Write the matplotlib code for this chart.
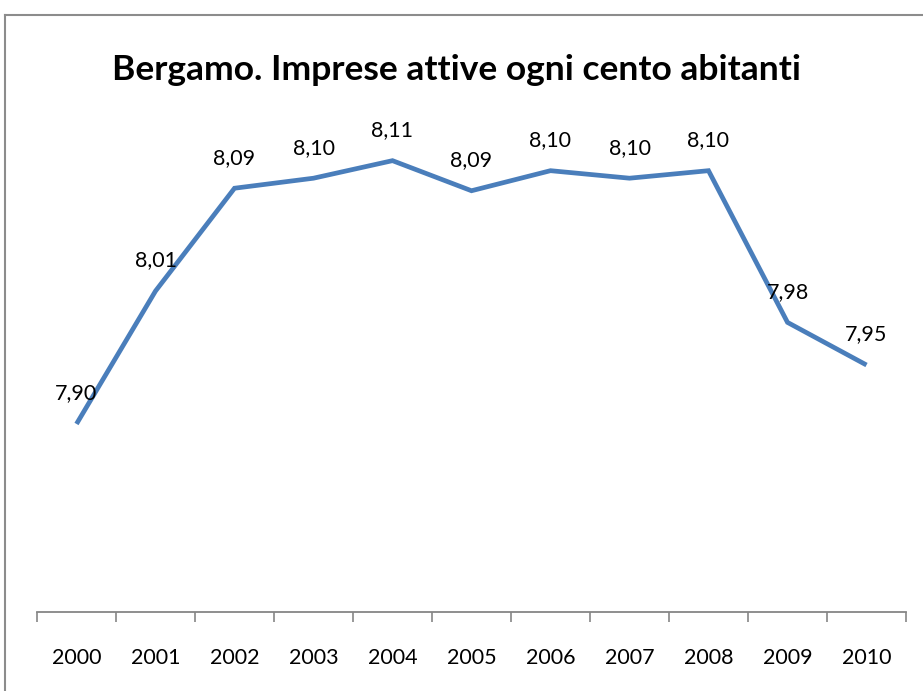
import matplotlib
matplotlib.use("Agg")
import matplotlib.pyplot as plt
from matplotlib.lines import Line2D

years = ["2000", "2001", "2002", "2003", "2004", "2005", "2006", "2007", "2008", "2009", "2010"]
values = [7.900, 8.006, 8.088, 8.096, 8.110, 8.086, 8.102, 8.096, 8.102, 7.981, 7.947]
title = "Bergamo. Imprese attive ogni cento abitanti"

plt.rcParams['font.family'] = ['Lato', 'DejaVu Sans']

W, H = 923, 691
fig = plt.figure(figsize=(W / 100, H / 100), dpi=100)
fig.patch.set_facecolor("white")

ax = fig.add_axes([37 / W, 1 - 612 / H, (906 - 37) / W, (612 - 110.5) / H])
x = list(range(len(years)))
ax.plot(x, values, color="#4A7EBB", lw=3.4, solid_joinstyle="miter", solid_capstyle="butt")

for xi, v in zip(x, values):
    ax.annotate(f"{v:.2f}".replace(".", ","), (xi, v), xytext=(0, 22),
                textcoords="offset points", ha="center", va="center",
                fontsize=15.5, color="black")

ax.set_xlim(-0.5, len(years) - 0.5)
ax.set_ylim(7.75, 8.15)
ax.set_yticks([])
for s in ["left", "right", "top"]:
    ax.spines[s].set_visible(False)
ax.spines["bottom"].set_color("#868686")
ax.spines["bottom"].set_linewidth(1.3)

ax.set_xticks([i - 0.5 for i in range(len(years) + 1)])
ax.set_xticklabels([])
ax.tick_params(axis="x", which="major", direction="out", length=7, width=1.2, color="#868686")
ax.set_xticks(x, minor=True)
ax.set_xticklabels(years, minor=True, fontsize=15.5)
ax.tick_params(axis="x", which="minor", length=0, pad=26)

fig.text(457 / W, 1 - 70 / H, title, ha="center", va="center",
         fontsize=25.5, fontweight="bold", color="black")

# chart border (top and left visible)
fig.add_artist(Line2D([5 / W, 1], [1 - 15 / H, 1 - 15 / H], transform=fig.transFigure,
                      color="#8C8C8C", lw=1.5))
fig.add_artist(Line2D([5 / W, 5 / W], [0, 1 - 15 / H], transform=fig.transFigure,
                      color="#8C8C8C", lw=1.5))

fig.savefig("out.png", dpi=100)
